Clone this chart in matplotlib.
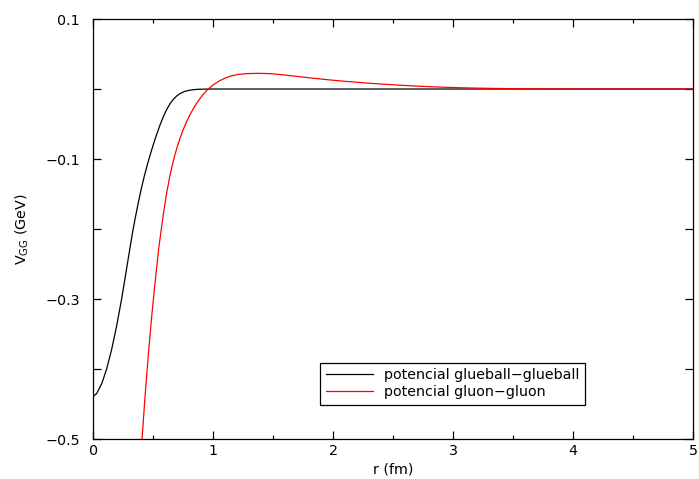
"""
Glueball-glueball vs gluon-gluon potential
"""
import numpy as np
import matplotlib.pyplot as plt
from matplotlib.ticker import FixedLocator, FuncFormatter, MultipleLocator

plt.rcParams['font.family'] = ['DejaVu Sans']
plt.rcParams['font.size'] = 10.3

# potencial glueball-glueball
r_gg = [0, 0.028, 0.07, 0.111, 0.153, 0.195, 0.236, 0.26, 0.28, 0.30, 0.328,
        0.35, 0.375, 0.40, 0.425, 0.45, 0.475, 0.5, 0.525, 0.556, 0.583, 0.611,
        0.639, 0.667, 0.695, 0.722, 0.76, 0.806, 0.85, 0.889, 0.95, 1.0, 5.0]
v_gg = [-0.439, -0.435, -0.421, -0.400, -0.372, -0.338, -0.300, -0.275, -0.254,
        -0.233, -0.204, -0.184, -0.1625, -0.1425, -0.1245, -0.1085, -0.0935,
        -0.0795, -0.0665, -0.0515, -0.040, -0.0295, -0.0212, -0.0148, -0.010,
        -0.0066, -0.0035, -0.0016, -0.0007, -0.0003, -0.0001, 0.0, 0.0]

# potencial gluon-gluon
r_g = [0.40, 0.431, 0.458, 0.486, 0.514, 0.545, 0.583, 0.61, 0.639, 0.667, 0.695,
       0.72, 0.75, 0.78, 0.806, 0.835, 0.861, 0.89, 0.917, 0.94, 0.958, 1.0, 1.05,
       1.1, 1.15, 1.2, 1.28, 1.375, 1.45, 1.5, 1.6, 1.695, 1.83, 1.97, 2.1, 2.25,
       2.4, 2.53, 2.67, 2.81, 2.95, 3.08, 3.22, 3.36, 3.55, 3.8, 4.2, 5.0]
v_g = [-0.515, -0.440, -0.381, -0.326, -0.278, -0.228, -0.180, -0.150, -0.1237,
       -0.1027, -0.0852, -0.0718, -0.0578, -0.0458, -0.0367, -0.0277, -0.0205,
       -0.0134, -0.0076, -0.0032, 0.0, 0.006, 0.0115, 0.0157, 0.0187, 0.0206,
       0.0220, 0.0224, 0.0221, 0.0216, 0.0199, 0.0181, 0.0155, 0.0130, 0.0110,
       0.0089, 0.0071, 0.0057, 0.0044, 0.0033, 0.0024, 0.0017, 0.0012, 0.0008,
       0.0004, 0.0002, 0.0, 0.0]

y_ticks = [0.1, 0.0, -0.1, -0.2, -0.3, -0.4, -0.5]
y_labels = ['0.1', '', '\u22120.1', '', '\u22120.3', '', '\u22120.5']

fig = plt.figure(figsize=(6.99, 4.79), dpi=100)
ax = fig.add_axes([0.1335, 0.0835, 0.8579, 0.8768])

ax.plot(r_gg, v_gg, color='black', lw=0.9, label='potencial glueball\u2212glueball')
ax.plot(r_g, v_g, color='red', lw=0.9, label='potencial gluon\u2212gluon')

ax.set_xlim(0, 5)
ax.set_ylim(-0.5, 0.1)

ax.xaxis.set_major_locator(MultipleLocator(1))
ax.xaxis.set_minor_locator(MultipleLocator(0.5))
ax.yaxis.set_major_locator(FixedLocator(y_ticks))
ax.yaxis.set_major_formatter(FuncFormatter(
    lambda v, pos: y_labels[int(np.argmin(np.abs(np.array(y_ticks) - v)))]))

ax.tick_params(which='both', direction='in', top=True, right=True, width=0.9)
ax.tick_params(which='major', length=6)
ax.tick_params(which='minor', length=3)
ax.tick_params(axis='x', pad=3.5)
ax.tick_params(axis='y', pad=9.5)
for s in ax.spines.values():
    s.set_linewidth(0.9)

ax.set_xlabel('r (fm)', labelpad=3)
ax.set_ylabel('V$_{\\mathregular{GG}}$ (GeV)', labelpad=10)

leg = ax.legend(loc='lower left', bbox_to_anchor=(0.378, 0.081), fancybox=False,
                edgecolor='black', framealpha=1, handlelength=3.3,
                borderpad=0.4, labelspacing=0.2, borderaxespad=0)
leg.get_frame().set_linewidth(0.9)

fig.savefig('out.png', dpi=100)
